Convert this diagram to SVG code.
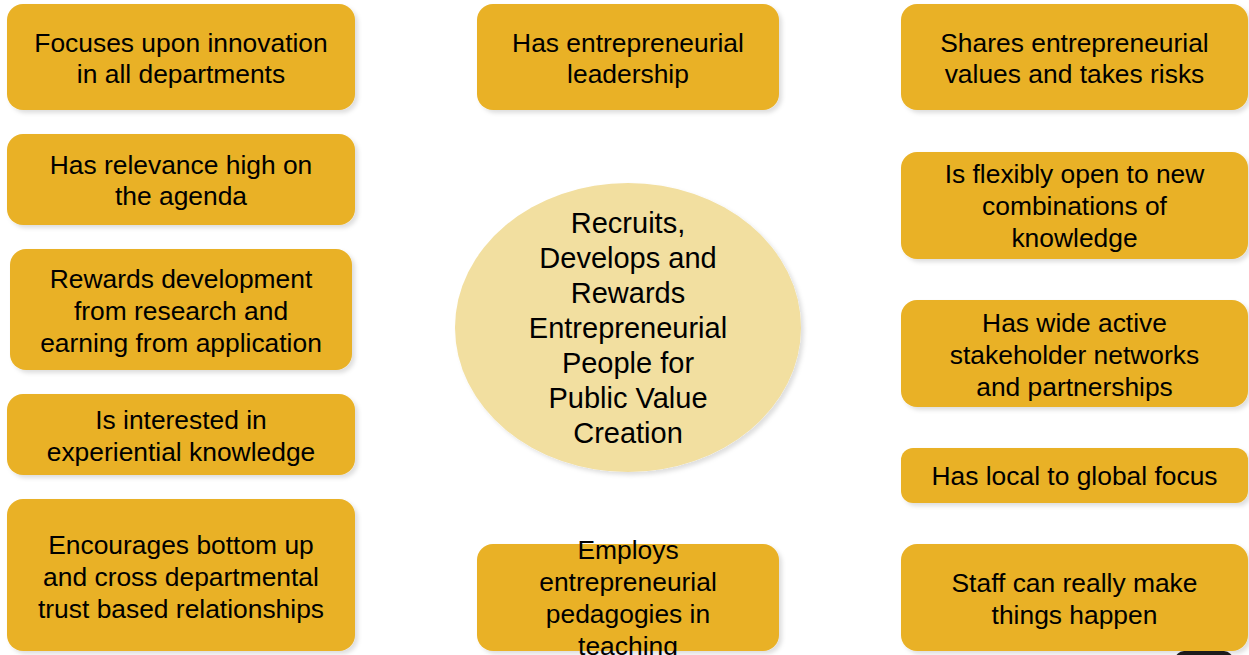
<svg xmlns="http://www.w3.org/2000/svg" width="1249" height="655" viewBox="0 0 1249 655">
<defs>
<filter id="sh" x="-10%" y="-10%" width="125%" height="130%">
<feDropShadow dx="3" dy="3" stdDeviation="2" flood-color="#000" flood-opacity="0.13"/>
</filter>
<style>
.box{fill:#E9B126;filter:url(#sh);}
.ell{fill:#F2DFA0;filter:url(#sh);}
text{font-family:"Liberation Sans",Arial,sans-serif;font-size:26.4px;fill:#000;text-anchor:middle;}
.c{font-size:29px;}
</style>
</defs>
<rect width="1249" height="655" fill="#fff"/>
<g id="connectors"></g>
<g id="center">
<ellipse class="ell" cx="628" cy="327.5" rx="173" ry="144.5"/>
<text class="c" x="628"><tspan x="628" y="233">Recruits,</tspan><tspan x="628" y="268">Develops and</tspan><tspan x="628" y="303">Rewards</tspan><tspan x="628" y="338">Entrepreneurial</tspan><tspan x="628" y="373">People for</tspan><tspan x="628" y="408">Public Value</tspan><tspan x="628" y="443">Creation</tspan></text>
</g>
<g id="l1"><rect class="box" x="7" y="4" width="348" height="106" rx="16"/><text><tspan x="181" y="52">Focuses upon innovation</tspan><tspan x="181" y="83">in all departments</tspan></text></g>
<g id="l2"><rect class="box" x="7" y="134" width="348" height="91" rx="16"/><text><tspan x="181" y="174">Has relevance high on</tspan><tspan x="181" y="205">the agenda</tspan></text></g>
<g id="l3"><rect class="box" x="10" y="249" width="342" height="121" rx="16"/><text><tspan x="181" y="288">Rewards development</tspan><tspan x="181" y="320">from research and</tspan><tspan x="181" y="352">earning from application</tspan></text></g>
<g id="l4"><rect class="box" x="7" y="394" width="348" height="81" rx="16"/><text><tspan x="181" y="429">Is interested in</tspan><tspan x="181" y="461">experiential knowledge</tspan></text></g>
<g id="l5"><rect class="box" x="7" y="499" width="348" height="152" rx="16"/><text><tspan x="181" y="554">Encourages bottom up</tspan><tspan x="181" y="586">and cross departmental</tspan><tspan x="181" y="618">trust based relationships</tspan></text></g>
<g id="m1"><rect class="box" x="477" y="4" width="302" height="106" rx="16"/><text><tspan x="628" y="52">Has entrepreneurial</tspan><tspan x="628" y="83">leadership</tspan></text></g>
<g id="m2"><rect class="box" x="477" y="544" width="302" height="107" rx="16"/><text><tspan x="628" y="559">Employs</tspan><tspan x="628" y="591">entrepreneurial</tspan><tspan x="628" y="623">pedagogies in</tspan><tspan x="628" y="655">teaching</tspan></text></g>
<g id="r1"><rect class="box" x="901" y="4" width="347" height="106" rx="16"/><text><tspan x="1074.5" y="52">Shares entrepreneurial</tspan><tspan x="1074.5" y="83">values and takes risks</tspan></text></g>
<g id="r2"><rect class="box" x="901" y="152" width="347" height="107" rx="16"/><text><tspan x="1074.5" y="183">Is flexibly open to new</tspan><tspan x="1074.5" y="215">combinations of</tspan><tspan x="1074.5" y="247">knowledge</tspan></text></g>
<g id="r3"><rect class="box" x="901" y="300" width="347" height="107" rx="16"/><text><tspan x="1074.5" y="332">Has wide active</tspan><tspan x="1074.5" y="364">stakeholder networks</tspan><tspan x="1074.5" y="396">and partnerships</tspan></text></g>
<g id="r4"><rect class="box" x="901" y="448" width="347" height="55" rx="12"/><text><tspan x="1074.5" y="485">Has local to global focus</tspan></text></g>
<g id="r5"><rect class="box" x="901" y="544" width="347" height="107" rx="16"/><text><tspan x="1074.5" y="592">Staff can really make</tspan><tspan x="1074.5" y="624">things happen</tspan></text></g>
<rect x="1175" y="651" width="58" height="20" rx="9" fill="#1c1c1c"/>
</svg>
